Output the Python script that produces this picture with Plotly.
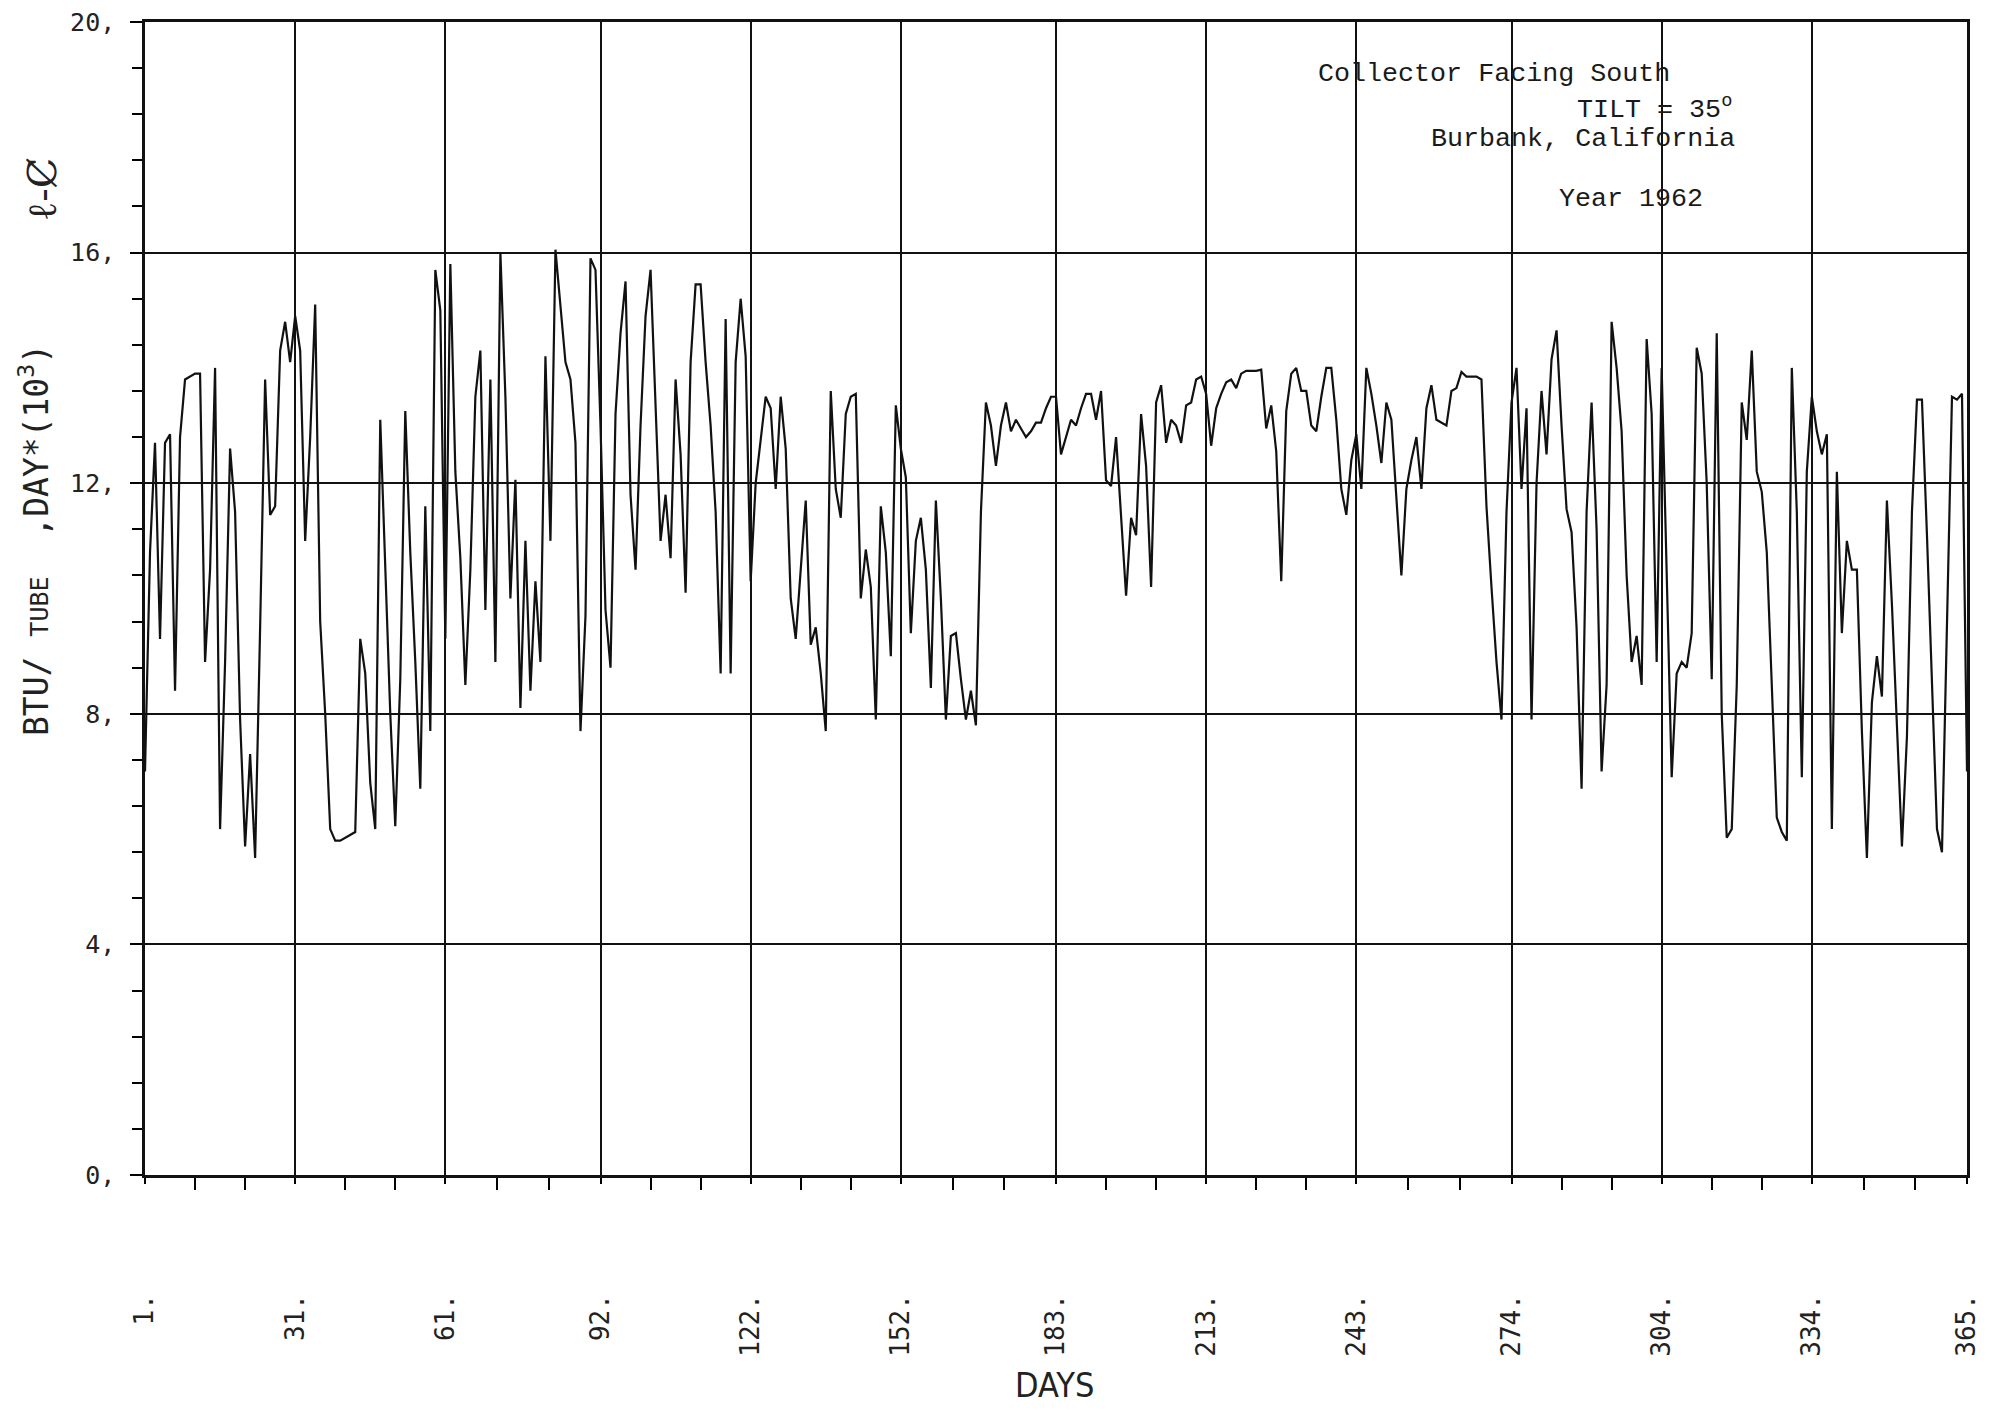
import plotly.graph_objects as go

# ---------------- data ----------------
days = list(range(1, 366))
btu_per_tube_day = [
    7.0, 10.8, 12.7, 9.3, 12.7, 12.85, 8.4, 12.8, 13.8, 13.85,
    13.9, 13.9, 8.9, 10.5, 14.0, 6.0, 8.9, 12.6, 11.5, 7.9,
    5.7, 7.3, 5.5, 9.5, 13.8, 11.45, 11.6, 14.3, 14.8, 14.1,
    14.9, 14.3, 11.0, 12.8, 15.1, 9.6, 8.0, 6.0, 5.8, 5.8,
    5.85, 5.9, 5.95, 9.3, 8.7, 6.8, 6.0, 13.1, 10.5, 8.0,
    6.05, 8.6, 13.25, 10.8, 8.9, 6.7, 11.6, 7.7, 15.7, 15.0,
    9.3, 15.8, 12.2, 10.7, 8.5, 10.5, 13.5, 14.3, 9.8, 13.8,
    8.9, 16.0, 13.5, 10.0, 12.06, 8.1, 11.0, 8.4, 10.3, 8.9,
    14.2, 11.0, 16.05, 15.0, 14.1, 13.8, 12.7, 7.7, 9.7, 15.9,
    15.7, 13.0, 9.8, 8.8, 13.2, 14.6, 15.5, 11.8, 10.5, 13.0,
    14.9, 15.7, 13.5, 11.0, 11.8, 10.7, 13.8, 12.5, 10.1, 14.1,
    15.45, 15.45, 14.1, 13.0, 11.5, 8.7, 14.85, 8.7, 14.1, 15.2,
    14.2, 10.3, 12.0, 12.7, 13.5, 13.3, 11.9, 13.5, 12.6, 10.0,
    9.3, 10.5, 11.7, 9.2, 9.5, 8.7, 7.7, 13.6, 11.9, 11.4,
    13.2, 13.5, 13.55, 10.0, 10.85, 10.2, 7.9, 11.6, 10.8, 9.0,
    13.35, 12.6, 12.1, 9.4, 11.0, 11.4, 10.5, 8.45, 11.7, 10.0,
    7.9, 9.35, 9.4, 8.6, 7.9, 8.4, 7.8, 11.5, 13.4, 13.0,
    12.3, 13.0, 13.4, 12.9, 13.1, 12.95, 12.8, 12.9, 13.05, 13.05,
    13.3, 13.5, 13.5, 12.5, 12.8, 13.1, 13.0, 13.3, 13.55, 13.55,
    13.1, 13.6, 12.05, 11.95, 12.8, 11.5, 10.05, 11.4, 11.1, 13.2,
    12.3, 10.2, 13.4, 13.7, 12.7, 13.1, 13.0, 12.7, 13.35, 13.4,
    13.8, 13.85, 13.55, 12.65, 13.3, 13.55, 13.75, 13.8, 13.65, 13.9,
    13.95, 13.95, 13.95, 13.97, 12.95, 13.35, 12.55, 10.3, 13.25, 13.9,
    14.0, 13.6, 13.6, 13.0, 12.9, 13.5, 14.0, 14.0, 13.1, 11.9,
    11.45, 12.4, 12.85, 11.9, 14.0, 13.55, 13.0, 12.35, 13.4, 13.1,
    11.8, 10.4, 11.9, 12.4, 12.8, 11.9, 13.3, 13.7, 13.1, 13.05,
    13.0, 13.6, 13.65, 13.93, 13.85, 13.85, 13.85, 13.8, 11.6, 10.2,
    8.9, 7.9, 11.5, 13.4, 14.0, 11.9, 13.3, 7.9, 12.0, 13.6,
    12.5, 14.15, 14.65, 13.0, 11.55, 11.15, 9.5, 6.7, 11.5, 13.4,
    11.2, 7.0, 8.5, 14.8, 14.0, 12.9, 10.4, 8.9, 9.35, 8.5,
    14.5, 13.2, 8.9, 14.0, 10.4, 6.9, 8.7, 8.9, 8.8, 9.4,
    14.35, 13.9, 12.0, 8.6, 14.6, 8.0, 5.85, 6.0, 8.5, 13.4,
    12.75, 14.3, 12.2, 11.85, 10.8, 8.5, 6.2, 5.95, 5.8, 14.0,
    11.5, 6.9, 12.2, 13.5, 12.9, 12.5, 12.85, 6.0, 12.2, 9.4,
    11.0, 10.5, 10.5, 7.7, 5.5, 8.2, 9.0, 8.3, 11.7, 9.9,
    7.8, 5.7, 7.6, 11.5, 13.45, 13.45, 11.1, 8.5, 6.0, 5.6,
    9.5, 13.5, 13.45, 13.55, 7.0,
]
assert len(btu_per_tube_day) == len(days)

x_ticks = [1, 31, 61, 92, 122, 152, 183, 213, 243, 274, 304, 334, 365]
x_tick_labels = ["1.", "31.", "61.", "92.", "122.", "152.", "183.", "213.",
                 "243.", "274.", "304.", "334.", "365."]
y_ticks = [0, 4, 8, 12, 16, 20]
y_tick_labels = ["0,", "4,", "8,", "12,", "16,", "20,"]

info_lines = ["Collector Facing South", "TILT = 35<sup>o</sup>",
              "Burbank, California", "Year 1962"]

# ---------------- layout geometry (page pixels) ----------------
OFF = 8                      # default body margin of the html page
W, H = 2007 - 2 * OFF, 1414 - 2 * OFF
PLOT_L, PLOT_R, PLOT_T, PLOT_B = 145, 1967, 22, 1175   # plot area on the page
L = PLOT_L - OFF
R = W - (PLOT_R - OFF)
T = PLOT_T - OFF
B = H - (PLOT_B - OFF)
PW, PH = PLOT_R - PLOT_L, PLOT_B - PLOT_T


def px(xp):
    return (xp - PLOT_L) / PW


def py(yp):
    return (PLOT_B - yp) / PH


x_minor = [a + (b - a) * k / 3 for a, b in zip(x_ticks[:-1], x_ticks[1:]) for k in (1, 2)]

fig = go.Figure()
fig.add_trace(go.Scatter(
    x=days, y=btu_per_tube_day, mode="lines",
    line=dict(color="#111111", width=2.2), showlegend=False, hoverinfo="skip",
))

fig.update_layout(
    width=W, height=H,
    margin=dict(l=L, r=R, t=T, b=B, pad=0, autoexpand=False),
    paper_bgcolor="white", plot_bgcolor="white",
    xaxis=dict(
        range=[1, 365], tickmode="array", tickvals=x_ticks, ticktext=x_tick_labels,
        tickangle=-90, ticks="outside", ticklen=6, tickwidth=2, tickcolor="black",
        ticklabelstandoff=100, ticklabeloverflow="allow", automargin=False,
        tickfont=dict(family="DejaVu Sans Mono", size=26, color="#222222"),
        showgrid=True, gridcolor="#111111", gridwidth=2,
        showline=True, linecolor="#111111", linewidth=2.5, mirror=True,
        zeroline=False,
        minor=dict(tickmode="array", tickvals=x_minor, ticks="outside", ticklen=12,
                   tickwidth=2, tickcolor="black", showgrid=False),
    ),
    yaxis=dict(
        range=[0, 20], tickmode="array", tickvals=y_ticks, ticktext=y_tick_labels,
        ticks="outside", ticklen=12, tickwidth=2, tickcolor="black",
        ticklabelstandoff=10, ticklabeloverflow="allow", automargin=False,
        tickfont=dict(family="DejaVu Sans Mono", size=25, color="#222222"),
        showgrid=True, gridcolor="#111111", gridwidth=2,
        showline=True, linecolor="#111111", linewidth=2.5, mirror=True,
        zeroline=False,
        minor=dict(dtick=0.8, tick0=0, ticks="outside", ticklen=10, tickwidth=1.5,
                   tickcolor="black", showgrid=False),
    ),
)

annotations = []
# info block (typewriter text)
info_pos = [(1316, 74), (1575, 107), (1429, 139), (1557, 199)]
for txt, (xp, yp) in zip(info_lines, info_pos):
    annotations.append(dict(
        xref="paper", yref="paper", x=px(xp), y=py(yp), xanchor="left", yanchor="middle",
        text=txt, showarrow=False,
        font=dict(family="Liberation Mono", size=26.7, color="#1a1a1a"),
    ))

# y-axis title
annotations.append(dict(
    xref="paper", yref="paper", x=px(34), y=py(540), xanchor="center", yanchor="middle",
    textangle=-90, showarrow=False,
    text="BTU/ <span style='font-size:25px'>TUBE</span>  ,DAY*(10<sup>3</sup>)",
    font=dict(family="DejaVu Sans Mono", size=33, color="#222222"),
))
# handwritten mark near the y title
annotations.append(dict(
    xref="paper", yref="paper", x=px(42), y=py(190), xanchor="center", yanchor="middle",
    textangle=-90, showarrow=False, text="ℓ-Ȼ",
    font=dict(family="DejaVu Serif", size=40, color="#222222"),
))
# x-axis title
annotations.append(dict(
    xref="paper", yref="paper", x=px(1054), y=py(1385), xanchor="center", yanchor="middle",
    showarrow=False, text="DAYS",
    font=dict(family="DejaVu Sans Condensed, DejaVu Sans", size=34, color="#222222"),
))
fig.update_layout(annotations=annotations)

# short hand-drawn underline below the axis title
fig.add_shape(type="line", xref="paper", yref="paper",
              x0=px(1030), x1=px(1078), y0=py(1410), y1=py(1410),
              line=dict(color="#222222", width=3))

fig.write_html("out.html")
